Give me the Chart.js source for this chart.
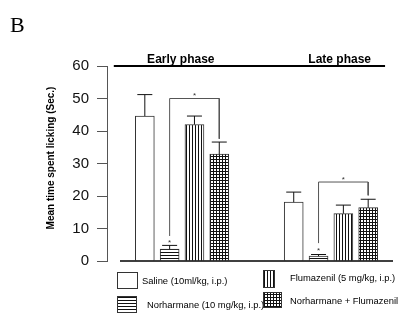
<!doctype html>
<html>
<head>
	<title>Licking time</title>
	<script src="https://cdn.jsdelivr.net/npm/chart.js@4.4.1/dist/chart.umd.min.js"></script>
	<style>
		body { margin: 0; background: #fff; }
	</style>
</head>
<body>
	<div style="width:398px;height:327px;">
		<canvas id="canvas" width="398" height="327"></canvas>
	</div>
	<script>
		var phases = ['Early phase', 'Late phase'];
		var treatments = ['Saline (10ml/kg, i.p.)', 'Norharmane (10 mg/kg, i.p.)', 'Flumazenil (5 mg/kg, i.p.)', 'Norharmane + Flumazenil'];
		var earlyMeans = [44.6, 3.7, 42.0, 32.9];
		var earlyErrors = [6.6, 1.1, 2.6, 3.7];
		var lateMeans = [18.1, 1.5, 14.6, 16.4];
		var lateErrors = [3.1, 0.5, 2.6, 2.6];
		var yTicks = [0, 10, 20, 30, 40, 50, 60];
		// significance brackets: [from bar, to bar, height, left foot, right foot]
		var earlyBracket = [2, 4, 50, 7.7, 37.6];
		var lateBracket = [8, 10, 24.3, 5.5, 20.2];

		var ctx = document.getElementById('canvas').getContext('2d');

		function makePattern(kind) {
			var c = document.createElement('canvas');
			c.width = 3;
			c.height = 3;
			var g = c.getContext('2d');
			g.fillStyle = '#fff';
			g.fillRect(0, 0, 3, 3);
			g.fillStyle = '#111';
			if (kind === 'h' || kind === 'grid') g.fillRect(0, 0, 3, 1);
			if (kind === 'v' || kind === 'grid') g.fillRect(0, 0, 1, 3);
			return ctx.createPattern(c, 'repeat');
		}
		var fills = ['#fff', makePattern('h'), makePattern('v'), makePattern('grid')];

		// early group sits on x = 1..4, late group on x = 7..10
		function barX(phase, i) {
			return phase === 0 ? i + 1 : i + 7;
		}

		var datasets = treatments.map(function(name, i) {
			return {
				type: 'bar',
				label: name,
				data: [{x: barX(0, i), y: earlyMeans[i]}, {x: barX(1, i), y: lateMeans[i]}],
				errors: [earlyErrors[i], lateErrors[i]],
				backgroundColor: fills[i],
				borderColor: '#333',
				borderWidth: 1,
				barThickness: 19,
				grouped: false,
				order: 2
			};
		});

		function bracketLine(b) {
			return {
				type: 'line',
				data: [{x: b[0], y: b[3]}, {x: b[0], y: b[2]}, {x: b[1], y: b[2]}, {x: b[1], y: b[4]}],
				borderColor: '#555',
				borderWidth: 1,
				pointRadius: 0,
				clip: false,
				order: 1
			};
		}
		datasets.push(bracketLine(earlyBracket));
		datasets.push(bracketLine(lateBracket));
		// baseline and phase line
		datasets.push({
			type: 'line',
			data: [{x: 0, y: 0}, {x: 11, y: 0}],
			borderColor: '#000',
			borderWidth: 1.5,
			pointRadius: 0,
			clip: false,
			order: 0
		});
		datasets.push({
			type: 'line',
			data: [{x: -0.25, y: 60}, {x: 10.68, y: 60}],
			borderColor: '#000',
			borderWidth: 2,
			pointRadius: 0,
			clip: false,
			order: 0
		});

		var extras = {
			id: 'extras',
			afterDatasetsDraw: function(chart) {
				var c = chart.ctx;
				var xs = chart.scales.x;
				var ys = chart.scales.y;
				c.save();

				// error bars (upper only)
				c.strokeStyle = '#111';
				c.lineWidth = 1;
				treatments.forEach(function(name, i) {
					var meta = chart.getDatasetMeta(i);
					var ds = chart.data.datasets[i];
					meta.data.forEach(function(bar, j) {
						var top = ys.getPixelForValue(ds.data[j].y + ds.errors[j]);
						c.beginPath();
						c.moveTo(bar.x, bar.y);
						c.lineTo(bar.x, top);
						c.moveTo(bar.x - 7.5, top);
						c.lineTo(bar.x + 7.5, top);
						c.stroke();
					});
				});

				// asterisks
				c.fillStyle = '#333';
				c.font = '8px "Liberation Sans", Arial, sans-serif';
				c.textAlign = 'center';
				c.textBaseline = 'middle';
				var stars = [[3, earlyBracket[2] + 1.5], [9, lateBracket[2] + 1.2], [2, earlyMeans[1] + 2.4], [8, lateMeans[1] + 2.4]];
				stars.forEach(function(s) {
					c.fillText('*', xs.getPixelForValue(s[0]), ys.getPixelForValue(s[1]) + 2);
				});

				// phase titles
				c.fillStyle = '#000';
				c.font = 'bold 12px "Liberation Sans", Arial, sans-serif';
				c.textBaseline = 'alphabetic';
				c.fillText(phases[0], xs.getPixelForValue(2.45), 63);
				c.fillText(phases[1], xs.getPixelForValue(8.85), 63);

				// panel letter
				c.textAlign = 'left';
				c.font = '22px "Liberation Serif", "Times New Roman", serif';
				c.fillText('B', 10, 32);

				// y title
				c.save();
				c.translate(54, 158);
				c.rotate(-Math.PI / 2);
				c.textAlign = 'center';
				c.textBaseline = 'alphabetic';
				c.font = 'bold 10px "Liberation Sans", Arial, sans-serif';
				c.fillText('Mean time spent licking (Sec.)', 0, 0);
				c.restore();

				// legend
				var boxes = [[117, 272, 21, 17], [117, 296, 20, 17], [263, 270, 12, 18], [263, 292, 19, 16]];
				var labels = [[142, 281], [147, 305], [290, 278], [290, 301]];
				c.font = '9.4px "Liberation Sans", Arial, sans-serif';
				c.textBaseline = 'middle';
				treatments.forEach(function(name, i) {
					var b = boxes[i];
					c.fillStyle = fills[i];
					c.fillRect(b[0], b[1], b[2], b[3]);
					c.strokeStyle = '#333';
					c.lineWidth = 1;
					c.strokeRect(b[0] + 0.5, b[1] + 0.5, b[2] - 1, b[3] - 1);
					c.fillStyle = '#000';
					c.fillText(name, labels[i][0], labels[i][1]);
				});
				c.restore();
			}
		};

		window.onload = function() {
			window.myChart = new Chart(ctx, {
				type: 'bar',
				data: {datasets: datasets},
				options: {
					responsive: false,
					animation: false,
					layout: {padding: {left: 0, right: 5, top: 66, bottom: 66}},
					plugins: {
						legend: {display: false},
						tooltip: {enabled: false}
					},
					scales: {
						x: {
							type: 'linear',
							min: -0.524,
							max: 11,
							offset: false,
							display: false
						},
						y: {
							min: 0,
							max: 60,
							afterFit: function(scale) {
								scale.width = 107;
							},
							afterBuildTicks: function(scale) {
								scale.ticks = yTicks.map(function(v) { return {value: v}; });
							},
							ticks: {
								color: '#111',
								padding: 8,
								font: {family: '"Liberation Sans", Arial, sans-serif', size: 15}
							},
							grid: {
								drawOnChartArea: false,
								drawTicks: true,
								tickLength: 10,
								color: '#555'
							},
							border: {display: true, color: '#555', width: 1}
						}
					}
				},
				plugins: [extras]
			});
		};
	</script>
</body>
</html>
